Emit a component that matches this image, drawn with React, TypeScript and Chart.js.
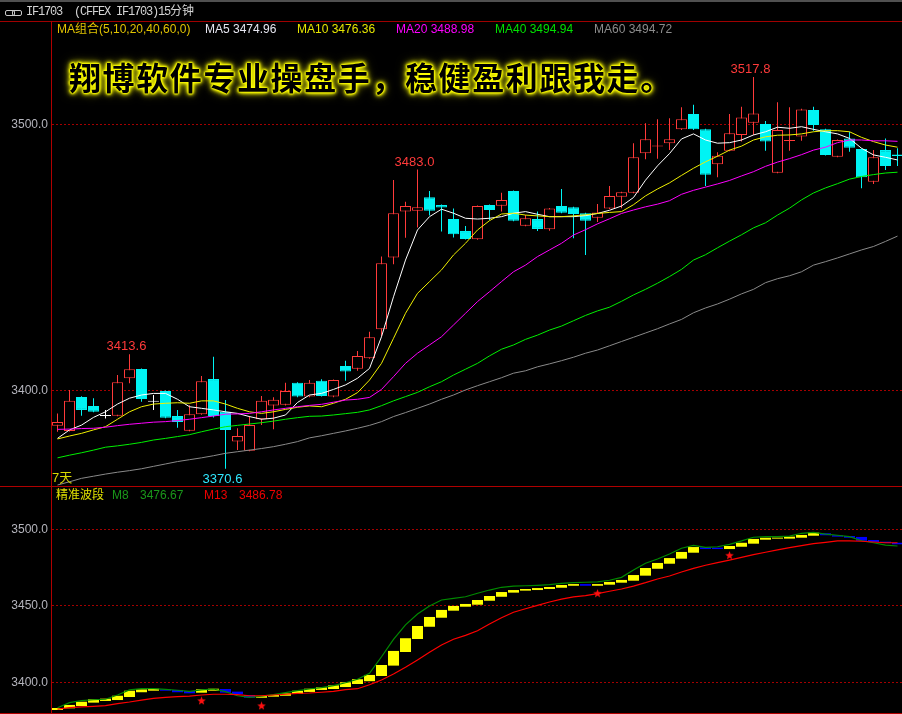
import React, { useEffect, useRef } from "react";
import { Chart, registerables } from "chart.js";

Chart.register(...registerables);

// ---------- candles (15-minute bars, IF1703) ----------
const opens = [3386.8, 3384.8, 3397.6, 3394.2, 3390.4, 3390.5, 3404.6, 3408.1, 3395.8, 3399.8,
  3390.4, 3384.9, 3391.1, 3404.3, 3392.0, 3380.8, 3377.4, 3389.2, 3394.4, 3394.6,
  3402.9, 3397.7, 3403.7, 3397.7, 3409.2, 3408.2, 3412.1, 3423.0, 3450.0, 3467.2,
  3467.5, 3472.6, 3469.7, 3464.4, 3459.9, 3456.8, 3469.7, 3469.4, 3474.9, 3461.9,
  3464.4, 3460.6, 3469.3, 3468.8, 3466.6, 3464.9, 3468.4, 3472.8, 3474.3, 3489.1,
  3491.7, 3492.9, 3498.1, 3503.9, 3498.1, 3485.0, 3490.1, 3496.0, 3500.6, 3500.1,
  3481.8, 3493.7, 3495.4, 3505.4, 3498.1, 3487.8, 3494.7, 3490.7, 3478.4, 3490.3,
  3488.7];
const closes = [3388.2, 3396.1, 3392.7, 3392.0, 3390.4, 3403.1, 3408.0, 3396.8, 3395.8, 3389.8,
  3388.2, 3391.1, 3403.5, 3390.4, 3385.2, 3382.9, 3387.0, 3396.1, 3396.5, 3399.8,
  3397.7, 3402.9, 3397.9, 3403.9, 3407.1, 3413.0, 3420.0, 3447.8, 3466.6, 3469.3,
  3468.8, 3467.5, 3468.7, 3458.7, 3456.9, 3469.3, 3467.8, 3471.6, 3463.8, 3464.7,
  3460.7, 3468.4, 3466.8, 3466.3, 3463.8, 3466.9, 3473.1, 3474.5, 3487.6, 3494.4,
  3491.9, 3494.4, 3501.9, 3498.1, 3481.0, 3488.2, 3496.6, 3502.6, 3504.1, 3493.5,
  3497.9, 3493.9, 3505.6, 3499.7, 3488.5, 3494.1, 3491.2, 3480.1, 3487.6, 3484.3,
  3488.1];
const highs = [3391.4, 3400.2, 3397.8, 3397.1, 3392.7, 3405.8, 3413.6, 3408.3, 3398.3, 3400.0,
  3392.7, 3394.5, 3405.4, 3412.7, 3396.4, 3385.8, 3390.4, 3397.9, 3397.5, 3402.9,
  3403.1, 3403.9, 3404.2, 3404.1, 3411.2, 3414.8, 3422.1, 3450.3, 3479.1, 3470.9,
  3483.0, 3474.9, 3469.9, 3468.4, 3461.8, 3469.5, 3469.9, 3474.3, 3475.1, 3465.9,
  3467.2, 3468.6, 3475.7, 3469.0, 3466.8, 3470.1, 3476.8, 3474.7, 3492.9, 3500.4,
  3501.9, 3502.3, 3506.4, 3507.3, 3498.3, 3489.5, 3503.9, 3506.6, 3517.8, 3501.2,
  3508.3, 3506.4, 3505.8, 3506.6, 3498.3, 3494.3, 3497.2, 3490.9, 3490.3, 3494.7,
  3491.0];
const lows = [3384.5, 3384.6, 3390.5, 3391.8, 3389.5, 3390.3, 3402.7, 3395.8, 3392.7, 3389.6,
  3386.0, 3384.7, 3390.9, 3389.9, 3370.6, 3377.6, 3377.2, 3387.0, 3385.4, 3394.4,
  3397.5, 3397.5, 3397.7, 3397.5, 3403.7, 3407.4, 3411.9, 3420.2, 3447.4, 3457.4,
  3461.2, 3465.7, 3459.7, 3457.5, 3456.7, 3456.6, 3464.0, 3467.2, 3463.6, 3461.7,
  3459.9, 3460.0, 3466.6, 3457.2, 3450.9, 3463.3, 3468.2, 3468.5, 3474.1, 3486.9,
  3487.1, 3490.3, 3497.9, 3497.9, 3476.8, 3480.1, 3489.9, 3493.5, 3496.0, 3490.1,
  3481.6, 3490.1, 3493.8, 3497.6, 3488.3, 3487.6, 3489.7, 3476.0, 3477.6, 3482.8,
  3484.3];

// ---------- moving averages ----------
const ma5 = [3382.0, 3385.2, 3387.0, 3389.9, 3392.0, 3394.9, 3397.1, 3398.3, 3398.9, 3398.9,
  3396.7, 3393.9, 3393.3, 3392.7, 3392.0, 3391.4, 3390.2, 3389.2, 3389.6, 3390.8,
  3395.5, 3398.3, 3398.9, 3400.4, 3402.1, 3404.6, 3408.3, 3420.2, 3435.2, 3449.0,
  3460.3, 3465.3, 3468.1, 3466.6, 3464.7, 3464.4, 3464.7, 3465.3, 3466.6, 3467.2,
  3466.2, 3465.3, 3465.3, 3465.3, 3465.7, 3466.5, 3467.7, 3469.3, 3472.5, 3479.0,
  3484.4, 3489.0, 3494.5, 3496.4, 3494.1, 3492.9, 3493.1, 3494.1, 3496.0, 3497.2,
  3498.9, 3498.5, 3499.1, 3498.1, 3497.2, 3496.4, 3494.7, 3491.0, 3488.5, 3487.6,
  3486.6];
const ma10 = [3381.8, 3382.9, 3383.9, 3385.2, 3386.4, 3389.2, 3392.0, 3393.9, 3394.9, 3395.2,
  3395.4, 3395.2, 3396.1, 3396.1, 3394.9, 3393.3, 3392.0, 3391.4, 3392.0, 3392.9,
  3393.7, 3394.2, 3393.9, 3395.2, 3396.7, 3399.2, 3403.9, 3410.2, 3419.6, 3429.0,
  3436.5, 3440.9, 3445.3, 3450.9, 3455.3, 3460.3, 3463.8, 3466.3, 3466.6, 3465.9,
  3465.6, 3465.3, 3465.3, 3465.6, 3466.0, 3466.5, 3466.9, 3467.2, 3469.8, 3473.1,
  3475.7, 3478.0, 3480.8, 3483.5, 3485.9, 3488.0, 3490.3, 3491.8, 3494.1, 3495.3,
  3495.9, 3496.0, 3496.4, 3497.2, 3497.6, 3497.6, 3497.2, 3495.1, 3493.5, 3492.2,
  3491.4];
const ma20 = [3385.4, 3385.5, 3385.7, 3385.8, 3386.2, 3386.8, 3387.3, 3387.7, 3388.1, 3388.3,
  3388.7, 3389.2, 3389.8, 3390.4, 3391.1, 3391.2, 3391.4, 3392.0, 3392.7, 3393.3,
  3393.9, 3394.4, 3394.8, 3395.6, 3396.4, 3396.7, 3397.4, 3400.4, 3405.2, 3410.2,
  3414.0, 3417.1, 3420.2, 3424.6, 3429.0, 3433.4, 3437.1, 3440.9, 3444.6, 3447.1,
  3450.3, 3452.8, 3455.3, 3458.4, 3460.4, 3462.6, 3464.5, 3466.5, 3467.8, 3469.0,
  3470.0, 3471.3, 3473.7, 3475.2, 3476.4, 3477.6, 3478.9, 3480.6, 3482.2, 3484.2,
  3485.8, 3487.1, 3488.6, 3490.3, 3491.4, 3493.1, 3494.1, 3494.1, 3493.8, 3493.8,
  3493.6];
const ma40 = [3374.7, 3375.7, 3376.6, 3377.6, 3378.7, 3379.2, 3379.8, 3380.5, 3381.4, 3382.0,
  3382.7, 3383.4, 3384.5, 3385.5, 3386.4, 3386.9, 3387.4, 3387.9, 3388.5, 3389.2,
  3389.8, 3390.3, 3390.4, 3390.8, 3391.3, 3391.8, 3392.7, 3394.3, 3396.1, 3397.7,
  3399.3, 3401.4, 3403.3, 3405.8, 3408.0, 3410.2, 3413.0, 3415.5, 3417.1, 3419.2,
  3420.8, 3422.7, 3424.2, 3426.2, 3428.2, 3429.9, 3431.3, 3433.5, 3435.9, 3438.0,
  3440.3, 3442.8, 3445.5, 3449.0, 3451.0, 3453.6, 3456.1, 3458.5, 3461.1, 3463.0,
  3465.9, 3468.5, 3471.6, 3474.2, 3476.1, 3477.7, 3479.4, 3480.4, 3481.1, 3481.7,
  3482.0];
const ma60 = [3364.5, 3365.7, 3367.0, 3367.8, 3368.6, 3369.3, 3369.9, 3370.6, 3371.5, 3372.4,
  3373.3, 3374.0, 3374.7, 3375.5, 3376.4, 3377.0, 3377.6, 3378.2, 3378.9, 3379.8,
  3380.8, 3382.2, 3383.0, 3383.9, 3384.8, 3385.8, 3386.9, 3388.3, 3390.2, 3391.7,
  3393.3, 3394.9, 3396.7, 3398.3, 3400.2, 3401.8, 3403.3, 3404.8, 3406.5, 3407.4,
  3408.9, 3410.0, 3411.2, 3412.5, 3414.0, 3415.2, 3416.8, 3418.4, 3420.0, 3421.6,
  3423.2, 3425.0, 3426.7, 3429.2, 3431.0, 3432.5, 3434.3, 3436.3, 3438.0, 3440.5,
  3442.0, 3443.1, 3444.6, 3447.1, 3448.4, 3449.8, 3451.3, 3452.8, 3454.1, 3456.0,
  3458.0];

// ---------- lower panel: 精准波段 ----------
const waveFrom = [3381.9, 3383.0, 3384.5, 3386.7, 3387.8, 3388.4, 3390.4, 3393.5, 3394.5, 3395.4,
  3395.0, 3394.3, 3393.2, 3394.5, 3395.6, 3393.9, 3391.7, 3389.9, 3390.6, 3391.2,
  3392.5, 3393.7, 3395.0, 3395.6, 3396.9, 3398.9, 3400.7, 3404.1, 3410.9, 3419.8,
  3428.3, 3436.3, 3442.2, 3446.8, 3449.4, 3450.7, 3453.3, 3455.9, 3458.6, 3459.9,
  3460.3, 3461.0, 3461.8, 3463.1, 3464.2, 3463.1, 3463.8, 3465.1, 3466.4, 3469.7,
  3474.2, 3477.5, 3480.8, 3484.7, 3488.2, 3488.0, 3487.1, 3488.6, 3490.6, 3493.2,
  3493.9, 3493.9, 3494.5, 3495.8, 3497.4, 3496.1, 3495.6, 3495.0, 3493.0, 3491.9,
  3491.2];
const waveTo = [3383.2, 3385.2, 3387.3, 3388.9, 3389.3, 3391.2, 3394.5, 3395.4, 3395.8, 3394.5,
  3393.5, 3392.8, 3395.4, 3395.8, 3393.2, 3392.2, 3389.9, 3391.0, 3391.7, 3392.8,
  3394.5, 3395.8, 3396.7, 3398.0, 3400.0, 3402.0, 3404.8, 3411.3, 3420.5, 3428.8,
  3436.8, 3442.7, 3447.3, 3449.9, 3451.2, 3453.8, 3456.4, 3459.0, 3460.3, 3461.0,
  3461.6, 3462.3, 3463.6, 3464.2, 3463.1, 3464.2, 3465.6, 3466.9, 3470.1, 3474.7,
  3478.0, 3481.2, 3485.2, 3488.4, 3487.1, 3487.1, 3489.1, 3491.2, 3493.7, 3494.5,
  3494.5, 3495.2, 3496.3, 3497.8, 3496.1, 3495.2, 3494.5, 3492.5, 3491.7, 3491.0,
  3490.2];
const m8 = [3383.4, 3386.7, 3388.0, 3388.6, 3388.9, 3391.7, 3395.0, 3395.8, 3395.8, 3395.4,
  3394.8, 3394.1, 3395.0, 3395.6, 3393.9, 3391.2, 3390.2, 3391.0, 3391.9, 3393.2,
  3394.5, 3395.6, 3396.5, 3397.8, 3399.7, 3402.0, 3405.9, 3416.7, 3428.1, 3437.5,
  3444.6, 3449.9, 3453.8, 3454.9, 3455.9, 3458.2, 3460.3, 3462.1, 3462.9, 3463.1,
  3463.4, 3463.8, 3464.7, 3465.1, 3465.4, 3465.6, 3466.7, 3468.6, 3473.4, 3477.8,
  3480.6, 3483.9, 3487.6, 3489.5, 3488.2, 3488.6, 3490.2, 3492.4, 3494.8, 3495.2,
  3495.2, 3495.6, 3497.4, 3498.0, 3496.9, 3496.1, 3495.2, 3492.5, 3491.2, 3489.7,
  3489.1];
const m13 = [3382.5, 3383.4, 3383.9, 3384.3, 3384.7, 3386.0, 3387.1, 3388.4, 3389.5, 3390.2,
  3390.6, 3391.0, 3391.7, 3392.2, 3392.2, 3391.9, 3391.2, 3391.2, 3391.7, 3392.2,
  3392.8, 3393.0, 3393.5, 3394.1, 3395.2, 3395.8, 3398.4, 3401.5, 3405.4, 3409.8,
  3414.6, 3419.6, 3424.4, 3428.1, 3430.7, 3433.7, 3438.1, 3442.2, 3445.8, 3448.1,
  3450.3, 3452.5, 3454.4, 3455.8, 3456.6, 3457.9, 3459.5, 3461.0, 3462.9, 3465.1,
  3467.5, 3469.5, 3472.1, 3474.5, 3476.5, 3478.2, 3479.9, 3481.7, 3483.4, 3485.0,
  3486.5, 3488.0, 3489.3, 3490.6, 3491.5, 3492.4, 3492.5, 3492.2, 3491.7, 3491.2,
  3491.2];
const starIdx = [12, 17, 45, 56];
const starVals = [3388.0, 3384.7, 3458.2, 3483.0];

// marked extremes
const highMarkIdx = [6, 30, 58];
const lowMarkIdx = [14];

// axis ticks
const mainTicks = [3400, 3500];
const subTicks = [3400, 3450, 3500];

// ---------- styling constants ----------
const RED = "#ff3a3a";
const CYAN = "#00f4f4";
const WHITE = "#ffffff";
const GRID = "#a40000";
const X_MIN = -0.5417;
const X_MAX = 70.375;

const tickFont = { family: "'Liberation Sans', Arial, sans-serif", size: 12 };

function makeStar(): HTMLCanvasElement {
  const c = document.createElement("canvas");
  c.width = 9;
  c.height = 9;
  const g = c.getContext("2d")!;
  g.fillStyle = "#ff1010";
  g.beginPath();
  for (let k = 0; k < 10; k++) {
    const r = k % 2 === 0 ? 4.5 : 1.9;
    const a = -Math.PI / 2 + (k * Math.PI) / 5;
    const px = 4.5 + r * Math.cos(a);
    const py = 4.8 + r * Math.sin(a);
    if (k === 0) g.moveTo(px, py);
    else g.lineTo(px, py);
  }
  g.closePath();
  g.fill();
  return c;
}

const extremesPlugin = {
  id: "extremes",
  afterDatasetsDraw(chart: any) {
    const { ctx, scales } = chart;
    const x = scales.x;
    const y = scales.y;
    ctx.save();
    ctx.font = "13px 'Liberation Sans', Arial, sans-serif";
    ctx.textAlign = "center";
    ctx.textBaseline = "alphabetic";
    highMarkIdx.forEach((i) => {
      ctx.fillStyle = RED;
      ctx.fillText(highs[i].toFixed(1), x.getPixelForValue(i) - 3, y.getPixelForValue(highs[i]) - 4);
    });
    lowMarkIdx.forEach((i) => {
      ctx.fillStyle = "#30e8ff";
      ctx.fillText(lows[i].toFixed(1), x.getPixelForValue(i) - 3, y.getPixelForValue(lows[i]) + 14);
    });
    ctx.restore();
  },
};

function yAxis(min: number, max: number, ticks: number[]) {
  return {
    type: "linear",
    position: "left",
    min,
    max,
    afterFit: (s: any) => {
      s.width = 51;
      s.paddingTop = 0;
      s.paddingBottom = 0;
      s.paddingLeft = 0;
      s.paddingRight = 0;
    },
    afterBuildTicks: (s: any) => {
      s.ticks = ticks.map((v) => ({ value: v }));
    },
    ticks: {
      color: "#b4b4bc",
      font: tickFont,
      padding: 3,
      callback: (v: any) => Number(v).toFixed(1),
    },
    grid: { color: GRID, lineWidth: 1, drawTicks: false },
    border: { display: true, color: "#b00000", width: 1, dash: [2, 2] },
  };
}

const xAxis = { type: "linear", min: X_MIN, max: X_MAX, display: false, offset: false };

export default function App() {
  const mainRef = useRef<HTMLCanvasElement>(null);
  const subRef = useRef<HTMLCanvasElement>(null);

  useEffect(() => {
    document.body.style.margin = "0";
    document.body.style.background = "#000";

    const candleColor = (i: number) =>
      closes[i] > opens[i] ? RED : closes[i] < opens[i] ? CYAN : WHITE;
    const colors = opens.map((_, i) => candleColor(i));
    const bodyFill = opens.map((_, i) => (closes[i] > opens[i] ? "#000000" : colors[i]));

    const maLine = (data: number[], color: string) => ({
      type: "line",
      data: data.map((v, i) => ({ x: i, y: v })),
      borderColor: color,
      borderWidth: 1,
      pointRadius: 0,
      fill: false,
      tension: 0,
      order: 0,
    });

    const main = new Chart(mainRef.current!, {
      type: "bar",
      data: {
        datasets: [
          maLine(ma60, "#8a8a8a"),
          maLine(ma40, "#00f000"),
          maLine(ma20, "#ff00ff"),
          maLine(ma10, "#f0f000"),
          maLine(ma5, "#ffffff"),
          {
            type: "bar",
            data: opens.map((o, i) => ({ x: i, y: [o, closes[i]] })),
            backgroundColor: bodyFill,
            borderColor: colors,
            borderWidth: 1,
            borderSkipped: false,
            barThickness: 11,
            minBarLength: 1,
            inflateAmount: 0,
            grouped: false,
            order: 1,
          },
          {
            type: "bar",
            data: highs.map((h, i) => ({ x: i, y: [lows[i], h] })),
            backgroundColor: colors,
            borderWidth: 0,
            barThickness: 1,
            inflateAmount: 0,
            grouped: false,
            order: 2,
          },
        ],
      } as any,
      options: {
        responsive: false,
        animation: false,
        devicePixelRatio: 1,
        events: [],
        layout: { autoPadding: false, padding: { top: 22, bottom: 0, left: 0, right: 0 } },
        plugins: { legend: { display: false }, tooltip: { enabled: false } },
        scales: {
          x: xAxis,
          y: yAxis(3364.12, 3538.43, mainTicks),
        },
      } as any,
      plugins: [extremesPlugin],
    });

    const star = makeStar();
    const sub = new Chart(subRef.current!, {
      type: "bar",
      data: {
        datasets: [
          {
            type: "line",
            data: starIdx.map((i, k) => ({ x: i, y: starVals[k] })),
            showLine: false,
            pointStyle: star,
            pointRadius: 5,
            order: -1,
          },
          {
            type: "line",
            data: m13.map((v, i) => ({ x: i, y: v })),
            borderColor: "#ff0000",
            borderWidth: 1.2,
            pointRadius: 0,
            tension: 0,
            order: 0,
          },
          {
            type: "line",
            data: m8.map((v, i) => ({ x: i, y: v })),
            borderColor: "#008a00",
            borderWidth: 1.2,
            pointRadius: 0,
            tension: 0,
            order: 0,
          },
          {
            type: "bar",
            data: waveFrom.map((f, i) => ({ x: i, y: [f, waveTo[i]] })),
            backgroundColor: waveFrom.map((f, i) => (waveTo[i] >= f ? "#ffff00" : "#0000ff")),
            borderWidth: 0,
            barThickness: 11,
            minBarLength: 1,
            inflateAmount: 0,
            grouped: false,
            order: 2,
          },
        ],
      } as any,
      options: {
        responsive: false,
        animation: false,
        devicePixelRatio: 1,
        events: [],
        layout: { autoPadding: false, padding: 0 },
        plugins: { legend: { display: false }, tooltip: { enabled: false } },
        scales: {
          x: xAxis,
          y: yAxis(3379.93, 3527.65, subTicks),
        },
      } as any,
    });

    return () => {
      main.destroy();
      sub.destroy();
    };
  }, []);

  const abs = (s: React.CSSProperties): React.CSSProperties => ({ position: "absolute", whiteSpace: "pre", ...s });
  const legendFont = "'Liberation Sans', Arial, 'Noto Sans CJK SC', sans-serif";

  const maItems = [
    { t: "MA组合(5,10,20,40,60,0)", l: 57, c: "#e2c400" },
    { t: "MA5 3474.96", l: 205, c: "#e6e6f0" },
    { t: "MA10 3476.36", l: 297, c: "#e6e600" },
    { t: "MA20 3488.98", l: 396, c: "#ff00ff" },
    { t: "MA40 3494.94", l: 495, c: "#00e000" },
    { t: "MA60 3494.72", l: 594, c: "#8c8c8c" },
  ];

  const glow = [
    "0 0 1px #ffff00",
    "0 0 1px #ffff00",
    "0 0 2px #ffff00",
    "0 0 2px #ffff00",
    "0 0 3px #ffff00",
    "0 0 4px #ffff00",
    "0 0 5px #ffff00",
    "0 0 7px #e0e000",
    "0 0 11px #909000",
  ].join(", ");

  return (
    <div style={{ position: "relative", width: 902, height: 714, background: "#000", overflow: "hidden" }}>
      <canvas ref={mainRef} width={902} height={486} style={{ position: "absolute", left: 0, top: 0 }} />
      <canvas ref={subRef} width={902} height={226} style={{ position: "absolute", left: 0, top: 487 }} />

      {/* frame */}
      <div style={abs({ left: 0, top: 0, width: 902, height: 2, background: "#505050" })} />
      <div style={abs({ left: 0, top: 21, width: 902, height: 1, background: "#a00000" })} />
      <div style={abs({ left: 0, top: 486, width: 902, height: 1, background: "#b00000" })} />
      <div style={abs({ left: 0, top: 713, width: 902, height: 1, background: "#b00000" })} />
      <div style={abs({ left: 51, top: 21, width: 1, height: 693, background: "#b00000" })} />

      {/* header */}
      <div style={abs({ left: 5, top: 10, width: 8, height: 4, border: "1px solid #c8c8c8", borderRadius: 2 })} />
      <div style={abs({ left: 12, top: 10, width: 8, height: 4, border: "1px solid #c8c8c8", borderRadius: 2 })} />
      <div
        style={abs({
          left: 26,
          top: 4,
          fontFamily: "'Liberation Mono', 'Noto Sans CJK SC', monospace",
          fontSize: 12,
          letterSpacing: -1.2,
          lineHeight: "16px",
          color: "#d4d4d4",
        })}
      >
        {"IF1703  (CFFEX IF1703)15"}
        <span style={{ letterSpacing: 0 }}>分钟</span>
      </div>

      {/* MA legend */}
      {maItems.map((m) => (
        <div key={m.t} style={abs({ left: m.l, top: 22, fontFamily: legendFont, fontSize: 12, lineHeight: "15px", color: m.c })}>
          {m.t}
        </div>
      ))}

      {/* glowing slogan */}
      <div
        style={abs({
          left: 69,
          top: 58,
          fontFamily: "'Noto Sans CJK SC', sans-serif",
          fontWeight: 700,
          fontSize: 32,
          lineHeight: "36px",
          letterSpacing: 1.6,
          color: "#000",
          textShadow: glow,
        })}
      >
        翔博软件专业操盘手，稳健盈利跟我走。
      </div>

      <div style={abs({ left: 52, top: 470, fontFamily: legendFont, fontSize: 13, lineHeight: "15px", color: "#d8d800" })}>7天</div>

      {/* lower legend */}
      <div style={abs({ left: 56, top: 488, fontFamily: legendFont, fontSize: 12, lineHeight: "15px", color: "#e0e000" })}>精准波段</div>
      <div style={abs({ left: 112, top: 488, fontFamily: legendFont, fontSize: 12, lineHeight: "15px", color: "#1a961a" })}>M8</div>
      <div style={abs({ left: 140, top: 488, fontFamily: legendFont, fontSize: 12, lineHeight: "15px", color: "#1a961a" })}>3476.67</div>
      <div style={abs({ left: 204, top: 488, fontFamily: legendFont, fontSize: 12, lineHeight: "15px", color: "#f00000" })}>M13</div>
      <div style={abs({ left: 239, top: 488, fontFamily: legendFont, fontSize: 12, lineHeight: "15px", color: "#f00000" })}>3486.78</div>
    </div>
  );
}
